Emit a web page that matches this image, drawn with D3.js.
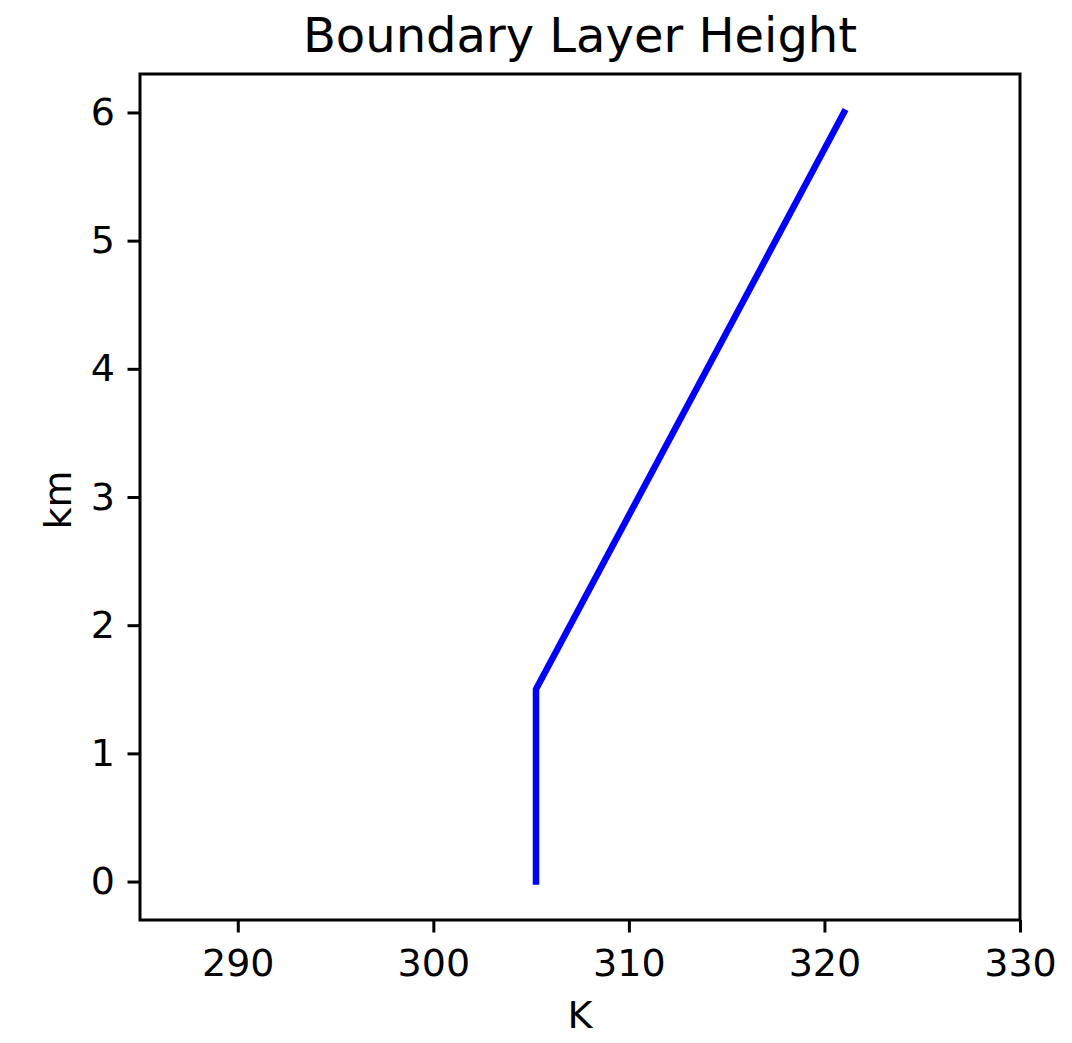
<!DOCTYPE html>
<html>
<head>
<meta charset="utf-8">
<script src="https://cdn.jsdelivr.net/npm/d3@7"></script>
<style>
  body { margin: 0; background: #fff; }
  text { font-family: "DejaVu Sans", sans-serif; fill: #000; }
</style>
</head>
<body>
<div id="chart"></div>
<script>
// Potential temperature profile (K) against height (km)
const theta = [305.25, 305.25, 321.0];
const heightKm = [0, 1.5, 6];
const xTicks = [290, 300, 310, 320, 330];
const yTicks = [0, 1, 2, 3, 4, 5, 6];

const width = 1072, height = 1043;
const margin = { top: 74, right: 52, bottom: 123, left: 140 };
const innerW = width - margin.left - margin.right;
const innerH = height - margin.top - margin.bottom;

const svg = d3.select('#chart').append('svg')
  .attr('width', width)
  .attr('height', height);

const g = svg.append('g')
  .attr('transform', `translate(${margin.left},${margin.top})`);

const x = d3.scaleLinear().domain([285, 330]).range([0, innerW]);
const y = d3.scaleLinear().domain([-0.3, 6.3]).range([innerH, 0]);

const points = theta.map((t, i) => ({ t, h: heightKm[i] }));

const line = d3.line()
  .x(d => x(d.t))
  .y(d => y(d.h));

g.append('path')
  .datum(points)
  .attr('d', line)
  .style('fill', 'none')
  .style('stroke', '#0000ff')
  .style('stroke-width', 6.5)
  .style('stroke-linecap', 'square')
  .style('stroke-linejoin', 'round');

// Axes
const xAxis = d3.axisBottom(x).tickValues(xTicks).tickFormat(d3.format('d'))
  .tickSize(12.5).tickPadding(16.5);
const yAxis = d3.axisLeft(y).tickValues(yTicks).tickFormat(d3.format('d'))
  .tickSize(12.5).tickPadding(12.5);

const gx = g.append('g')
  .attr('transform', `translate(0,${innerH})`)
  .call(xAxis);
const gy = g.append('g').call(yAxis);

[gx, gy].forEach(a => {
  a.attr('font-size', null).attr('font-family', null);
  a.select('.domain').remove();
  a.selectAll('line').style('stroke', '#000').style('stroke-width', 3);
  a.selectAll('text').style('font-size', '38px').style('font-family', '"DejaVu Sans", sans-serif');
});

// Frame
g.append('rect')
  .attr('width', innerW)
  .attr('height', innerH)
  .style('fill', 'none')
  .style('stroke', '#000')
  .style('stroke-width', 3);

// Labels
svg.append('text')
  .attr('x', margin.left + innerW / 2)
  .attr('y', 52)
  .attr('text-anchor', 'middle')
  .style('font-size', '48px')
  .text('Boundary Layer Height');

svg.append('text')
  .attr('x', margin.left + innerW / 2)
  .attr('y', 1028)
  .attr('text-anchor', 'middle')
  .style('font-size', '38px')
  .text('K');

svg.append('text')
  .attr('transform', `translate(71,${margin.top + innerH / 2 + 3}) rotate(-90)`)
  .attr('text-anchor', 'middle')
  .style('font-size', '38px')
  .text('km');
</script>
</body>
</html>
